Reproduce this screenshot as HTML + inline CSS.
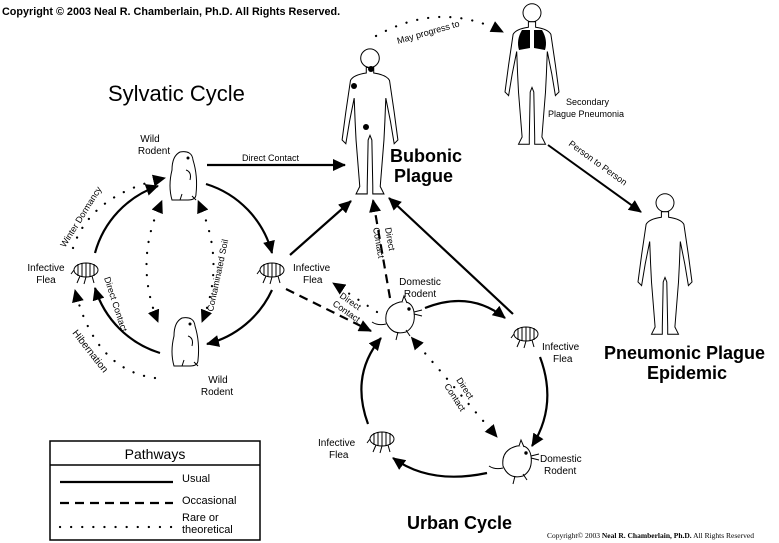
<!DOCTYPE html>
<html><head><meta charset="utf-8"><style>
html,body{margin:0;padding:0;background:#fff;}
svg{display:block;font-family:"Liberation Sans",sans-serif;}
</style></head><body>
<svg width="779" height="543" viewBox="0 0 779 543" xmlns="http://www.w3.org/2000/svg">
<defs>
<marker id="a" markerWidth="14" markerHeight="12" refX="12" refY="6" orient="auto" markerUnits="userSpaceOnUse"><path d="M0,0 L13,6 L0,12 Z" fill="#000"/></marker>
<marker id="s" markerWidth="14" markerHeight="12" refX="2" refY="6" orient="auto-start-reverse" markerUnits="userSpaceOnUse"><path d="M0,0 L13,6 L0,12 Z" fill="#000"/></marker>
<g id="human" fill="#fff" stroke="#000" stroke-width="1.1">
<circle cx="0" cy="12" r="10"/>
<path d="M-4,22 L-4,28 Q-18,30 -21,36 L-26,70 L-30,100 L-26,104 L-22,80 L-17,55 L-16,80 L-15,100 L-11,150 L-15,158 L-3,158 L-3,150 L-2,100 L0,95 L2,100 L3,150 L3,158 L15,158 L11,150 L15,100 L16,80 L17,55 L22,80 L26,104 L30,100 L26,70 L21,36 Q18,30 4,28 L4,22 Z"/>
</g>
<g id="flea" fill="#fff" stroke="#000" stroke-width="1">
<ellipse cx="0" cy="0" rx="12" ry="7"/>
<path d="M-8,-6 L-8,6 M-4,-7 L-4,7 M0,-7 L0,7 M4,-7 L4,7 M8,-6 L8,6 M-6,6 L-9,13 M0,7 L-2,14 M6,6 L8,13 M-12,0 L-15,4"/>
</g>
<g id="gh" fill="#fff" stroke="#000" stroke-width="1">
<path d="M-4,-24 Q8,-26 9,-16 Q14,0 12,18 Q12,24 4,24 L-12,24 Q-16,10 -12,-6 Q-12,-20 -4,-24 Z"/>
<path d="M2,-6 Q8,-4 6,4 M-2,18 L-4,24 M8,20 L12,24"/>
<circle cx="4" cy="-18" r="1" fill="#000"/>
</g>
<g id="mouse" fill="#fff" stroke="#000" stroke-width="1">
<path d="M-12,4 Q-14,-12 2,-16 Q14,-18 16,-6 Q18,8 8,14 Q-6,18 -12,4 Z"/>
<path d="M4,-16 L6,-22 L9,-15 M-12,6 Q-20,8 -26,4 M0,14 L-2,22 M8,12 L12,18 M16,-6 L24,-8 M16,-4 L24,-2"/>
<circle cx="11" cy="-9" r="1.2" fill="#000"/>
</g>
</defs>

<text x="2" y="15" font-size="10.8" font-weight="bold">Copyright © 2003 Neal R. Chamberlain, Ph.D. All Rights Reserved.</text>
<text x="108" y="101" font-size="22">Sylvatic Cycle</text>

<!-- humans -->
<use href="#human" transform="translate(370,47) scale(0.93)"/>
<circle cx="371" cy="69" r="3"/><circle cx="354" cy="86" r="3"/><circle cx="366" cy="127" r="3"/>
<use href="#human" transform="translate(532,2) scale(0.9)"/>
<path d="M522,30 Q516,40 519,50 L530,48 L530,30 Z M542,30 Q548,40 545,50 L534,48 L534,30 Z" fill="#000"/>
<use href="#human" transform="translate(665,192) scale(0.9)"/>

<text x="390" y="162" font-size="18" font-weight="bold">Bubonic</text>
<text x="394" y="182" font-size="18" font-weight="bold">Plague</text>
<text x="604" y="359" font-size="18" font-weight="bold">Pneumonic Plague</text>
<text x="647" y="379" font-size="18" font-weight="bold">Epidemic</text>
<text x="566" y="105" font-size="9">Secondary</text>
<text x="548" y="117" font-size="9">Plague Pneumonia</text>

<path d="M376,36 Q440,0 503,32" fill="none" stroke="#000" stroke-width="2.2" stroke-dasharray="0.1,11" stroke-linecap="round" marker-end="url(#a)"/>
<text transform="translate(398,44) rotate(-16)" font-size="9">May progress to</text>
<path d="M548,145 L641,212" stroke="#000" stroke-width="2" marker-end="url(#a)"/>
<text transform="translate(568,145) rotate(36)" font-size="9">Person to Person</text>

<!-- sylvatic -->
<use href="#gh" x="184" y="176"/>
<use href="#gh" x="186" y="342"/>
<use href="#flea" x="86" y="270"/>
<use href="#flea" x="272" y="270"/>
<text x="150" y="142" font-size="10" text-anchor="middle">Wild</text>
<text x="154" y="154" font-size="10" text-anchor="middle">Rodent</text>
<text x="218" y="383" font-size="10" text-anchor="middle">Wild</text>
<text x="217" y="395" font-size="10" text-anchor="middle">Rodent</text>
<text x="46" y="271" font-size="10" text-anchor="middle">Infective</text>
<text x="46" y="283" font-size="10" text-anchor="middle">Flea</text>
<text x="293" y="271" font-size="10">Infective</text>
<text x="303" y="283" font-size="10">Flea</text>

<g fill="none" stroke="#000" stroke-width="2.2">
<path d="M206,184 A98,98 0 0 1 272,253" marker-end="url(#a)"/>
<path d="M272,290 A98,98 0 0 1 207,344" marker-end="url(#a)"/>
<path d="M160,353 A98,98 0 0 1 95,288" marker-end="url(#a)"/>
<path d="M95,253 A98,98 0 0 1 158,186" marker-end="url(#a)"/>
<path d="M207,165 L345,165" marker-end="url(#a)"/>
<path d="M290,255 L351,201" marker-end="url(#a)"/>
</g>
<text x="242" y="161" font-size="9">Direct Contact</text>
<text transform="translate(104,278) rotate(72)" font-size="9">Direct Contact</text>
<text transform="translate(213,312) rotate(-78)" font-size="9">Contaminated Soil</text>
<text transform="translate(65,248) rotate(-58)" font-size="9">Winter Dormancy</text>
<text transform="translate(72,333) rotate(52)" font-size="10">Hibernation</text>

<g fill="none" stroke="#000" stroke-width="2.2" stroke-dasharray="0.1,11" stroke-linecap="round">
<path d="M73,248 Q90,195 165,178" marker-end="url(#a)"/>
<path d="M155,378 Q95,370 75,290" marker-end="url(#a)"/>
<path d="M158,210 Q135,265 158,322" marker-start="url(#s)" marker-end="url(#a)"/>
<path d="M202,210 Q225,265 202,322" marker-start="url(#s)" marker-end="url(#a)"/>
<path d="M377,312 L333,283" marker-end="url(#a)"/>
<path d="M418,345 L497,437" marker-start="url(#s)" marker-end="url(#a)"/>
</g>

<!-- urban -->
<use href="#mouse" x="398" y="318"/>
<use href="#mouse" x="515" y="462"/>
<use href="#flea" x="526" y="334"/>
<use href="#flea" x="382" y="439"/>
<text x="420" y="285" font-size="10" text-anchor="middle">Domestic</text>
<text x="420" y="297" font-size="10" text-anchor="middle">Rodent</text>
<text x="542" y="350" font-size="10">Infective</text>
<text x="553" y="362" font-size="10">Flea</text>
<text x="540" y="462" font-size="10">Domestic</text>
<text x="544" y="474" font-size="10">Rodent</text>
<text x="318" y="446" font-size="10">Infective</text>
<text x="329" y="458" font-size="10">Flea</text>

<g fill="none" stroke="#000" stroke-width="2.2">
<path d="M425,308 Q470,290 505,318" marker-end="url(#a)"/>
<path d="M540,357 Q558,405 532,446" marker-end="url(#a)"/>
<path d="M487,473 Q430,485 393,458" marker-end="url(#a)"/>
<path d="M368,424 Q350,375 381,338" marker-end="url(#a)"/>
<path d="M513,314 L389,198" marker-end="url(#a)"/>
</g>
<g fill="none" stroke="#000" stroke-width="2.2" stroke-dasharray="9,6">
<path d="M286,289 L371,331" marker-end="url(#a)"/>
<path d="M390,298 L373,200" marker-end="url(#a)"/>
</g>
<text transform="translate(385,228) rotate(80)" font-size="9">Direct</text>
<text transform="translate(373,228) rotate(80)" font-size="9">Contact</text>
<text transform="translate(339,297) rotate(35)" font-size="9">Direct</text>
<text transform="translate(332,305) rotate(35)" font-size="9">Contact</text>
<text transform="translate(456,380) rotate(57)" font-size="9">Direct</text>
<text transform="translate(444,386) rotate(57)" font-size="9">Contact</text>

<text x="407" y="529" font-size="18" font-weight="bold">Urban Cycle</text>
<text x="547" y="538" font-size="7.5" font-family="Liberation Serif,serif">Copyright© 2003 <tspan font-weight="bold">Neal R. Chamberlain, Ph.D.</tspan> All Rights Reserved</text>

<!-- legend -->
<rect x="50" y="441" width="210" height="99" fill="none" stroke="#000" stroke-width="1.5"/>
<line x1="50" y1="465" x2="260" y2="465" stroke="#000" stroke-width="1.5"/>
<text x="155" y="459" font-size="14" text-anchor="middle">Pathways</text>
<line x1="60" y1="482" x2="173" y2="482" stroke="#000" stroke-width="2.2"/>
<text x="182" y="482" font-size="11">Usual</text>
<line x1="60" y1="503" x2="173" y2="503" stroke="#000" stroke-width="2.2" stroke-dasharray="9,6"/>
<text x="182" y="504" font-size="11">Occasional</text>
<line x1="60" y1="527" x2="173" y2="527" stroke="#000" stroke-width="2.2" stroke-dasharray="0.1,11" stroke-linecap="round"/>
<text x="182" y="521" font-size="11">Rare or</text>
<text x="182" y="533" font-size="11">theoretical</text>
</svg>
</body></html>
